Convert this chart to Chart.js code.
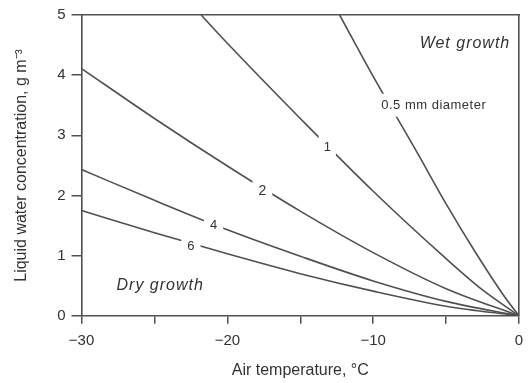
<!DOCTYPE html>
<html>
<head>
<meta charset="utf-8">
<script src="https://cdn.jsdelivr.net/npm/chart.js@4/dist/chart.umd.min.js"></script>
<style>
  html, body { margin: 0; padding: 0; background: #fff; }
  #wrap { width: 528px; height: 383px; position: relative; }
</style>
</head>
<body>
<div id="wrap"><canvas id="chart"></canvas></div>
<script>
// Hailstone growth regimes: liquid water vs air temperature, one curve per diameter.
const diameters = ['0.5', '1', '2', '4', '6'];

const temps05 = [-12.3, -10, -7, -5, -3, -1, 0];
const lwc05 = [5, 3.98, 2.72, 1.86, 1.06, 0.32, 0];

const temps1 = [-21.8, -20, -15, -10, -5, -2.5, 0];
const lwc1 = [5, 4.53, 3.28, 2.07, 0.95, 0.43, 0];

const temps2 = [-30, -25, -20, -15, -10, -5, 0];
const lwc2 = [4.11, 3.28, 2.49, 1.74, 1.05, 0.45, 0];

const temps4 = [-30, -25, -20, -15, -10, -5, 0];
const lwc4 = [2.43, 1.92, 1.43, 0.99, 0.58, 0.24, 0];

const temps6 = [-30, -25, -20, -15, -10, -5, 0];
const lwc6 = [1.75, 1.38, 1.03, 0.70, 0.41, 0.16, 0];

const xTicks = [-30, -25, -20, -15, -10, -5, 0];
const yTicks = [0, 1, 2, 3, 4, 5];

(function drawChart() {
  const ink = '#505050';
  const textInk = '#333';
  const face = '"Liberation Sans", Arial, sans-serif';

  function toPoints(xs, ys) {
    return xs.map((x, i) => ({ x, y: ys[i] }));
  }

  const series = [
    [temps05, lwc05],
    [temps1, lwc1],
    [temps2, lwc2],
    [temps4, lwc4],
    [temps6, lwc6]
  ];

  // curve labels sit on the lines, with a white knock-out behind them
  const notes = [
    { text: '0.5 mm diameter', x: -9.45, y: 3.5, align: 'left', size: 13, spacing: 0.5, pad: 5 },
    { text: '1', x: -13.15, y: 2.8, size: 13, pad: 5 },
    { text: '2', x: -17.6, y: 2.08, size: 14, pad: 6 },
    { text: '4', x: -20.95, y: 1.5, size: 13, pad: 6 },
    { text: '6', x: -22.5, y: 1.15, size: 13, pad: 6 },
    { text: 'Wet growth', x: -0.6, y: 4.53, align: 'right', size: 16, spacing: 1, italic: true },
    { text: 'Dry growth', x: -27.6, y: 0.5, align: 'left', size: 16, spacing: 1, italic: true }
  ];

  const notePlugin = {
    id: 'curveNotes',
    afterDatasetsDraw(chart) {
      const { ctx, scales } = chart;
      ctx.save();
      notes.forEach((n) => {
        const px = scales.x.getPixelForValue(n.x);
        const py = scales.y.getPixelForValue(n.y);
        ctx.font = (n.italic ? 'italic ' : '') + n.size + 'px ' + face;
        ctx.letterSpacing = (n.spacing || 0) + 'px';
        ctx.textAlign = n.align || 'center';
        ctx.textBaseline = 'middle';
        const w = ctx.measureText(n.text).width;
        if (n.pad) {
          let left = px - w / 2;
          if (n.align === 'left') left = px;
          if (n.align === 'right') left = px - w;
          ctx.fillStyle = '#fff';
          ctx.fillRect(left - n.pad, py - n.size / 2 - n.pad, w + 2 * n.pad, n.size + 2 * n.pad);
        }
        ctx.fillStyle = textInk;
        ctx.fillText(n.text, px, py);
      });
      ctx.restore();
    }
  };

  const ctx = document.getElementById('chart').getContext('2d');
  new Chart(ctx, {
    type: 'scatter',
    data: {
      datasets: series.map(([xs, ys], i) => ({
        label: diameters[i] + ' mm',
        data: toPoints(xs, ys),
        showLine: true,
        borderColor: ink,
        borderWidth: 1.6,
        pointRadius: 0,
        cubicInterpolationMode: 'monotone',
        fill: false
      }))
    },
    options: {
      responsive: true,
      maintainAspectRatio: false,
      animation: false,
      layout: { padding: { left: 12, right: 9, top: 15, bottom: 3 } },
      plugins: {
        legend: { display: false },
        tooltip: { enabled: false }
      },
      scales: {
        x: {
          type: 'linear',
          min: -30,
          max: 0,
          afterBuildTicks: (axis) => { axis.ticks = xTicks.map((v) => ({ value: v })); },
          // let the last label hang past the frame, as in the print
          afterFit: (axis) => { axis.paddingRight = 0; },
          ticks: {
            color: textInk,
            font: { family: face, size: 15 },
            padding: 8,
            maxRotation: 0,
            callback: (v) => (v % 10 === 0 ? (v < 0 ? '\u2212' + Math.abs(v) : String(v)) : '')
          },
          grid: { drawOnChartArea: false, color: ink, tickLength: 8, lineWidth: 1.5 },
          border: { color: ink, width: 1.6 },
          title: {
            display: true,
            text: 'Air temperature, \u00B0C',
            color: textInk,
            font: { family: face, size: 16 },
            padding: { top: 3, bottom: 0 }
          }
        },
        y: {
          min: 0,
          max: 5,
          afterBuildTicks: (axis) => { axis.ticks = yTicks.map((v) => ({ value: v })); },
          ticks: {
            color: textInk,
            font: { family: face, size: 15 },
            padding: 6
          },
          grid: { drawOnChartArea: false, color: ink, tickLength: 10, lineWidth: 1.5 },
          border: { color: ink, width: 1.6 },
          title: {
            display: true,
            text: 'Liquid water concentration, g m\u207B\u00B3',
            color: textInk,
            font: { family: face, size: 16 },
            padding: { top: 0, bottom: 20 }
          }
        },
        x2: {
          type: 'linear',
          position: 'top',
          ticks: { display: false },
          grid: { display: false, drawTicks: false },
          border: { color: ink, width: 1.6 }
        },
        y2: {
          type: 'linear',
          position: 'right',
          ticks: { display: false },
          grid: { display: false, drawTicks: false },
          border: { color: ink, width: 1.6 }
        }
      }
    },
    plugins: [notePlugin]
  });
})();
</script>
</body>
</html>
